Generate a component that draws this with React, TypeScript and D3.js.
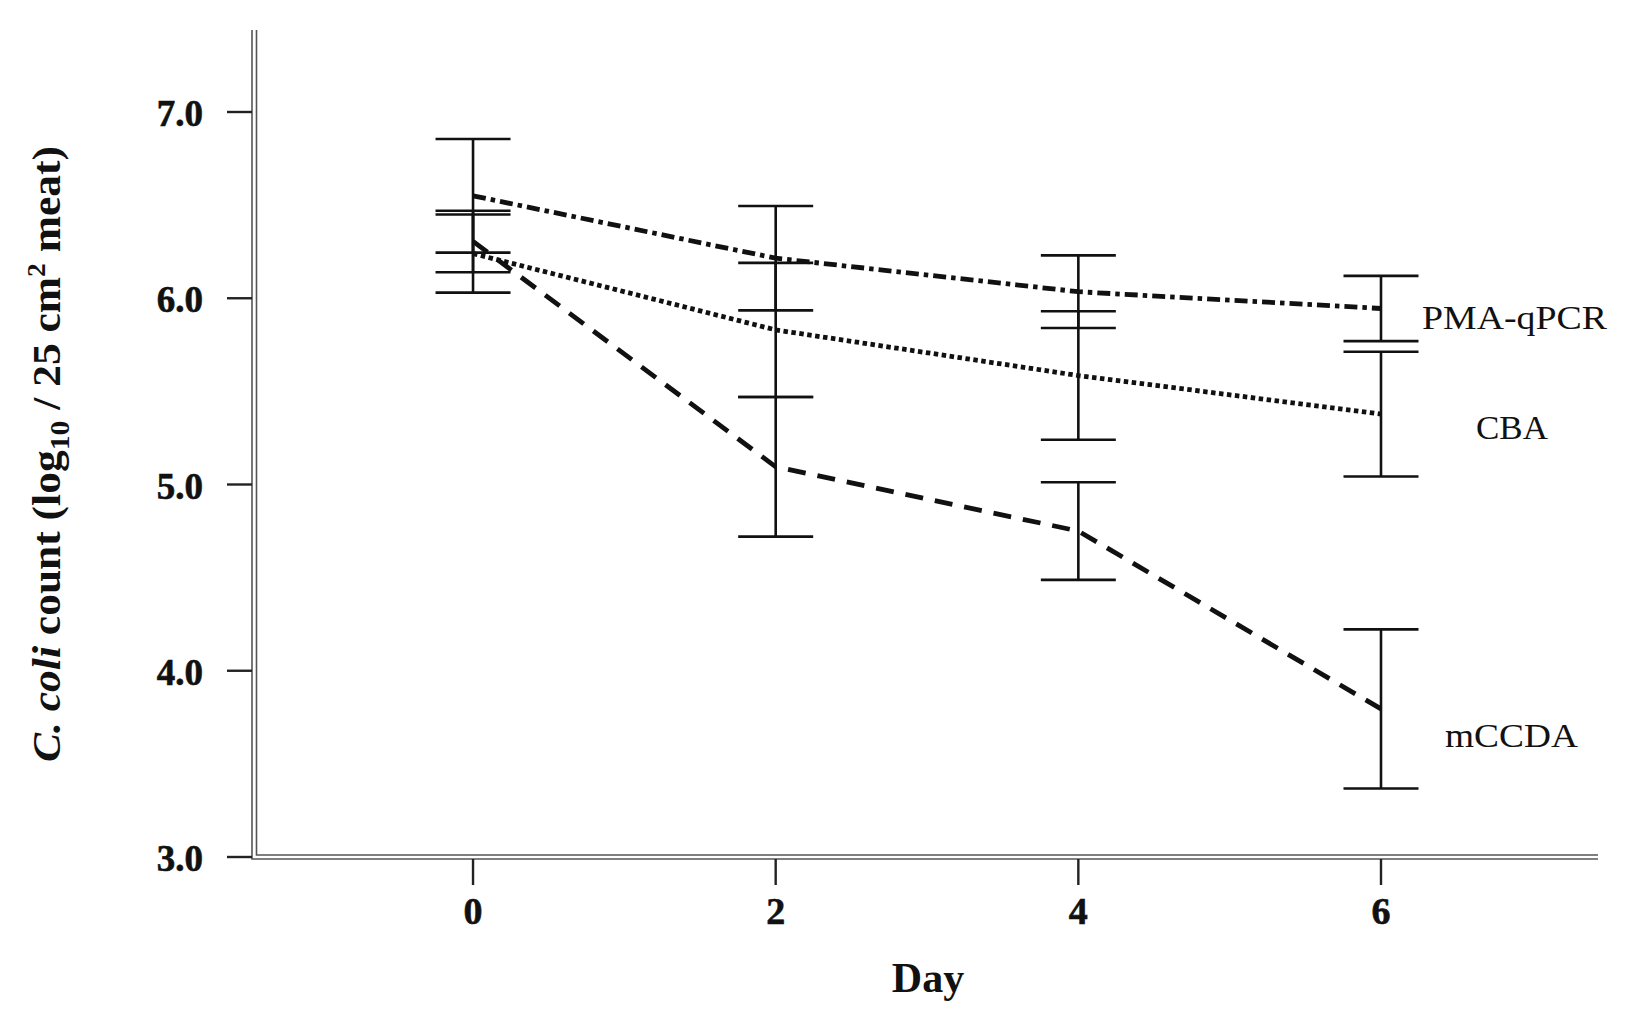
import * as d3 from "d3";

// days sampled
const days = [0, 2, 4, 6];

// mean log10 counts and error bar half-widths
const pmaMean = [6.55, 6.215, 6.035, 5.945];
const pmaErr = [0.305, 0.28, 0.195, 0.175];
const cbaMean = [6.24, 5.83, 5.585, 5.378];
const cbaErr = [0.21, 0.36, 0.345, 0.335];
const mccdaMean = [6.305, 5.095, 4.75, 3.795];
const mccdaErr = [0.165, 0.375, 0.262, 0.427];

const xTicks = [0, 2, 4, 6];
const yTicks = [3, 4, 5, 6, 7];

const seriesNames = ["PMA-qPCR", "CBA", "mCCDA"];

const W = 1637;
const H = 1030;
const FONT = "'Liberation Serif', 'Times New Roman', serif";

export default function App() {
  const x = d3.scaleLinear().domain([-1.454, 7.434]).range([253, 1598]);
  const y = d3.scaleLinear().domain([3, 7]).range([857, 112]);

  const series = [
    { name: seriesNames[0], mean: pmaMean, err: pmaErr, dash: "13,5,4.5,5", lx: 1422, ly: 329, len: 185 },
    { name: seriesNames[1], mean: cbaMean, err: cbaErr, dash: "4.5,3.5", lx: 1476, ly: 439, len: 72 },
    { name: seriesNames[2], mean: mccdaMean, err: mccdaErr, dash: "18,12", lx: 1445, ly: 747, len: 133 },
  ];

  const line = d3
    .line<number>()
    .x((_, i) => x(days[i]))
    .y((d) => y(d));

  const capHalf = 37.5;
  const axisTop = 30;

  return (
    <div style={{ position: "absolute", left: 0, top: 0 }}>
      <svg width={W} height={H} style={{ display: "block", background: "#fff" }}>
        {/* axes: drawn as a thin double line like the original */}
        <path
          d={`M${x.range()[0] - 1},${axisTop} V${y(3) + 2} H${x.range()[1]}`}
          fill="none"
          stroke="#555"
          strokeWidth={1.6}
        />
        <path
          d={`M${x.range()[0] + 3.5},${axisTop} V${y(3) - 2} H${x.range()[1]}`}
          fill="none"
          stroke="#555"
          strokeWidth={1.6}
        />

        {/* y ticks */}
        {yTicks.map((t) => (
          <g key={`y${t}`}>
            <line x1={227} x2={252} y1={y(t)} y2={y(t)} stroke="#222" strokeWidth={2.4} />
            <text
              x={203}
              y={y(t) + 14}
              textAnchor="end"
              fontFamily={FONT}
              fontWeight="bold"
              fontSize={37}
              fill="#111"
              stroke="#111"
              strokeWidth={0.6}
            >
              {t.toFixed(1)}
            </text>
          </g>
        ))}

        {/* x ticks */}
        {xTicks.map((t) => (
          <g key={`x${t}`}>
            <line x1={x(t)} x2={x(t)} y1={y(3) + 2} y2={885} stroke="#222" strokeWidth={2.4} />
            <text
              x={x(t)}
              y={924}
              textAnchor="middle"
              fontFamily={FONT}
              fontWeight="bold"
              fontSize={38}
              fill="#111"
              stroke="#111"
              strokeWidth={0.6}
            >
              {t}
            </text>
          </g>
        ))}

        {/* axis titles */}
        <text
          x={928}
          y={992}
          textAnchor="middle"
          fontFamily={FONT}
          fontWeight="bold"
          fontSize={42}
          fill="#111"
        >
          Day
        </text>
        <text
          transform="translate(60,454) rotate(-90)"
          textAnchor="middle"
          fontFamily={FONT}
          fontWeight="bold"
          fontSize={41}
          fill="#111"
          textLength={616}
          lengthAdjust="spacingAndGlyphs"
        >
          <tspan fontStyle="italic">C. coli</tspan>
          <tspan> count (log</tspan>
          <tspan fontSize={28} dy={9}>10</tspan>
          <tspan dy={-9}> / 25 cm</tspan>
          <tspan fontSize={26} dy={-15}>2</tspan>
          <tspan dy={15}> meat)</tspan>
        </text>

        {/* error bars */}
        {series.map((s) =>
          days.map((d, i) => {
            const cx = x(d);
            const hi = y(s.mean[i] + s.err[i]);
            const lo = y(s.mean[i] - s.err[i]);
            return (
              <g key={`${s.name}-${d}`} stroke="#111" strokeWidth={2.6}>
                <line x1={cx} x2={cx} y1={hi} y2={lo} />
                <line x1={cx - capHalf} x2={cx + capHalf} y1={hi} y2={hi} />
                <line x1={cx - capHalf} x2={cx + capHalf} y1={lo} y2={lo} />
              </g>
            );
          })
        )}

        {/* mean lines */}
        {series.map((s) => (
          <path
            key={s.name}
            d={line(s.mean) || ""}
            fill="none"
            stroke="#111"
            strokeWidth={4.8}
            strokeDasharray={s.dash}
          />
        ))}

        {/* series labels */}
        {series.map((s) => (
          <text
            key={`lab-${s.name}`}
            x={s.lx}
            y={s.ly}
            fontFamily={FONT}
            fontSize={34}
            fill="#111"
            textLength={s.len}
            lengthAdjust="spacingAndGlyphs"
          >
            {s.name}
          </text>
        ))}
      </svg>
    </div>
  );
}
